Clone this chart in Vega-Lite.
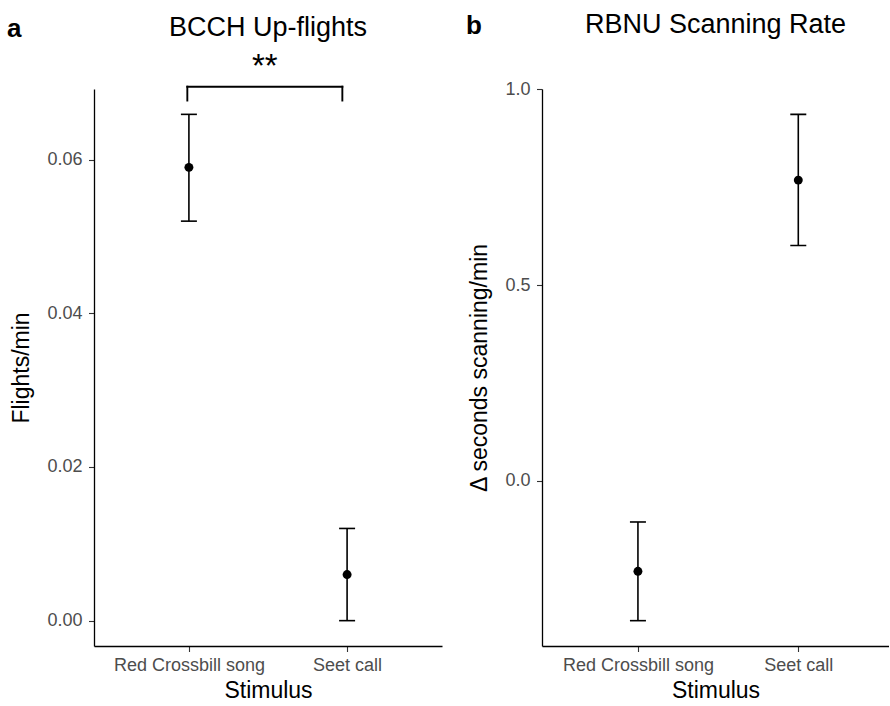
{
  "$schema": "https://vega.github.io/schema/vega-lite/v6.json",
  "padding": {"left": 6, "top": 11, "right": 0, "bottom": 0},
  "config": {
    "font": "Liberation Sans",
    "view": {"stroke": null},
    "axis": {
      "domainColor": "#000000",
      "domainWidth": 1.3,
      "tickColor": "#333333",
      "tickSize": 5.5,
      "tickWidth": 1.1,
      "labelColor": "#4D4D4D",
      "labelFont": "Liberation Sans",
      "labelFontSize": 18,
      "labelPadding": 6.5,
      "titleFont": "Liberation Sans",
      "titleFontSize": 23,
      "titleFontWeight": "normal",
      "titleColor": "#000000",
      "titlePadding": 13,
      "grid": false
    },
    "axisX": {"titlePadding": 5, "labelPadding": 5},
    "title": {"font": "Liberation Sans", "fontSize": 27, "fontWeight": "normal", "color": "#000000"}
  },
  "datasets": {
    "bcch": [
      {"stimulus": "Red Crossbill song", "mean": 0.0590, "lo": 0.0520, "hi": 0.0659},
      {"stimulus": "Seet call", "mean": 0.0060, "lo": 0.0000, "hi": 0.0120}
    ],
    "rbnu": [
      {"stimulus": "Red Crossbill song", "mean": -0.231, "lo": -0.357, "hi": -0.105},
      {"stimulus": "Seet call", "mean": 0.768, "lo": 0.601, "hi": 0.936}
    ],
    "bracket": [
      {"x": 0.99, "x2": 1.97, "y": 0.0695, "y2": 0.0695},
      {"x": 0.99, "x2": 0.99, "y": 0.0677, "y2": 0.0695},
      {"x": 1.97, "x2": 1.97, "y": 0.0677, "y2": 0.0695}
    ],
    "stars": [
      {"x": 1.48, "y": 0.0721, "label": "**"}
    ]
  },
  "spacing": 23,
  "hconcat": [
    {
      "title": {"text": "a", "anchor": "start", "frame": "bounds", "fontWeight": "bold", "fontSize": 26, "offset": -28, "dx": -4},
      "hconcat": [
        {
          "width": 348,
          "height": 557,
          "title": {"text": "BCCH Up-flights", "anchor": "middle", "frame": "group", "offset": 9},
          "layer": [
            {
              "data": {"name": "bcch"},
              "encoding": {
                "x": {
                  "field": "stimulus", "type": "nominal", "title": "Stimulus",
                  "scale": {"type": "point", "padding": 0.6, "align": 0.5},
                  "axis": {"labelAngle": 0}
                },
                "y": {
                  "type": "quantitative",
                  "scale": {"domain": [-0.0033, 0.0692], "nice": false, "zero": false},
                  "axis": {"values": [0, 0.02, 0.04, 0.06], "format": ".2f", "title": "Flights/min"}
                }
              },
              "layer": [
                {"mark": {"type": "rule", "color": "#000000", "strokeWidth": 1.6},
                 "encoding": {"y": {"field": "lo", "type": "quantitative"}, "y2": {"field": "hi"}}},
                {"mark": {"type": "tick", "color": "#000000", "size": 16, "thickness": 1.6, "opacity": 1},
                 "encoding": {"y": {"field": "lo", "type": "quantitative"}}},
                {"mark": {"type": "tick", "color": "#000000", "size": 16, "thickness": 1.6, "opacity": 1},
                 "encoding": {"y": {"field": "hi", "type": "quantitative"}}},
                {"mark": {"type": "point", "filled": true, "color": "#000000", "size": 80, "opacity": 1},
                 "encoding": {"y": {"field": "mean", "type": "quantitative"}}}
              ]
            },
            {
              "encoding": {
                "x": {"field": "x", "type": "quantitative", "scale": {"domain": [0.4, 2.6], "nice": false, "zero": false}, "axis": null}
              },
              "layer": [
                {"data": {"name": "bracket"},
                 "mark": {"type": "rule", "color": "#000000", "strokeWidth": 1.9, "strokeCap": "square"},
                 "encoding": {"x2": {"field": "x2"}, "y": {"field": "y", "type": "quantitative"}, "y2": {"field": "y2"}}},
                {"data": {"name": "stars"},
                 "mark": {"type": "text", "fontSize": 33, "baseline": "middle", "align": "center", "color": "#000000"},
                 "encoding": {"y": {"field": "y", "type": "quantitative"}, "text": {"field": "label"}}}
              ]
            }
          ],
          "resolve": {"scale": {"x": "independent"}}
        }
      ]
    },
    {
      "title": {"text": "b", "anchor": "start", "frame": "bounds", "fontWeight": "bold", "fontSize": 26, "offset": -28, "dx": -3},
      "hconcat": [
        {
          "width": 347,
          "height": 557,
          "title": {"text": "RBNU Scanning Rate", "anchor": "middle", "frame": "group", "offset": 41},
          "data": {"name": "rbnu"},
          "encoding": {
            "x": {
              "field": "stimulus", "type": "nominal", "title": "Stimulus",
              "scale": {"type": "point", "padding": 0.582, "align": 0.514},
              "axis": {"labelAngle": 0}
            },
            "y": {
              "type": "quantitative",
              "scale": {"domain": [-0.4217, 1.0007], "nice": false, "zero": false},
              "axis": {"values": [0, 0.5, 1], "format": ".1f", "title": "Δ seconds scanning/min"}
            }
          },
          "layer": [
            {"mark": {"type": "rule", "color": "#000000", "strokeWidth": 1.6},
             "encoding": {"y": {"field": "lo", "type": "quantitative"}, "y2": {"field": "hi"}}},
            {"mark": {"type": "tick", "color": "#000000", "size": 16, "thickness": 1.6, "opacity": 1},
             "encoding": {"y": {"field": "lo", "type": "quantitative"}}},
            {"mark": {"type": "tick", "color": "#000000", "size": 16, "thickness": 1.6, "opacity": 1},
             "encoding": {"y": {"field": "hi", "type": "quantitative"}}},
            {"mark": {"type": "point", "filled": true, "color": "#000000", "size": 80, "opacity": 1},
             "encoding": {"y": {"field": "mean", "type": "quantitative"}}}
          ]
        }
      ]
    }
  ]
}
